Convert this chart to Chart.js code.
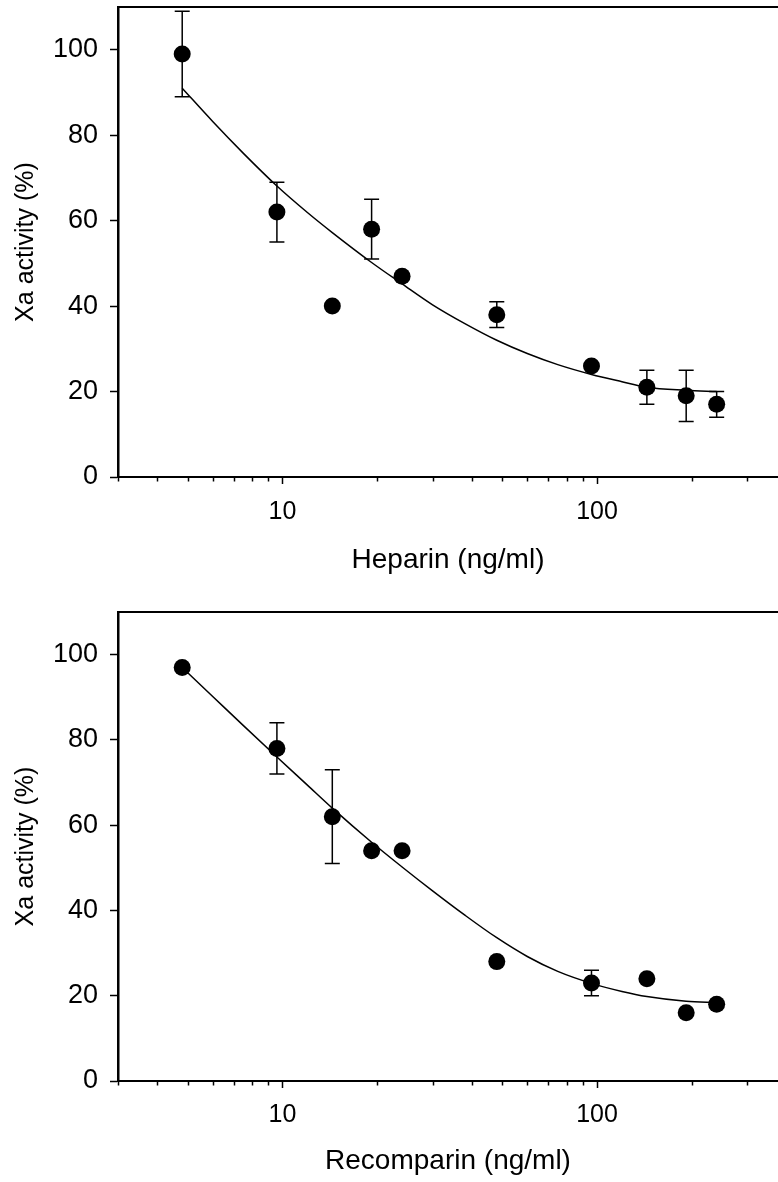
<!DOCTYPE html>
<html>
<head>
<meta charset="utf-8">
<script src="https://cdn.jsdelivr.net/npm/chart.js@4.4.1/dist/chart.umd.min.js"></script>
<style>
  html, body { margin: 0; padding: 0; background: #fff; }
  body { width: 778px; height: 1182px; position: relative; overflow: hidden; }
  canvas { position: absolute; left: 0; }
  #heparinChart { top: 0; }
  #recomparinChart { top: 580px; }
</style>
</head>
<body>
<canvas id="heparinChart" width="778" height="580"></canvas>
<canvas id="recomparinChart" width="778" height="602"></canvas>
<script>
// doses (ng/ml) shared by both panels
const doses = [4.8, 9.6, 14.4, 19.2, 24, 48, 96, 144, 192, 240];

const heparinMean = [99, 62, 40, 58, 47, 38, 26, 21, 19, 17];
const heparinErrLow = [89, 55, null, 51, null, 35, null, 17, 13, 14];
const heparinErrHigh = [109, 69, null, 65, null, 41, null, 25, 25, 20];

const recomparinMean = [97, 78, 62, 54, 54, 28, 23, 24, 16, 18];
const recomparinErrLow = [null, 72, 51, null, null, null, 20, null, null, null];
const recomparinErrHigh = [null, 84, 73, null, null, null, 26, null, null, null];

// fitted curves
const fitDoses = [4.8, 6, 7.5, 9.6, 12, 14.4, 19.2, 24, 30, 38, 48, 60, 75, 96, 120, 144, 192, 240];
const heparinFit = [91, 83.2, 75.8, 68.1, 61.9, 57.2, 50.2, 45.2, 40.3, 35.9, 32.0, 28.9, 26.3, 24.0, 22.3, 21.0, 20.3, 20.0];
const recomparinFit = [97, 90.2, 83.4, 76.0, 69.4, 64.0, 56.0, 50.2, 44.6, 38.9, 33.6, 29.2, 25.7, 22.9, 21.0, 19.8, 18.7, 18.4];

// axis ticks
const xMin = 3, xMax = 376;
const xTicks = [3, 4, 5, 6, 7, 8, 9, 10, 20, 30, 40, 50, 60, 70, 80, 90, 100, 200, 300];
const xLabelled = [10, 100];
const yTicks = [0, 20, 40, 60, 80, 100];

const FONT = '"Liberation Sans", Arial, Helvetica, sans-serif';

const framePlugin = {
    id: 'frame',
    beforeDatasetsDraw(chart, args, opts) {
        const ctx = chart.ctx;
        const x = chart.scales.x, y = chart.scales.y;
        ctx.save();
        ctx.strokeStyle = '#000';
        ctx.lineWidth = 1.5;
        doses.forEach((d, i) => {
            if (opts.lo[i] == null) return;
            const px = x.getPixelForValue(d);
            const yLo = y.getPixelForValue(opts.lo[i]);
            const yHi = y.getPixelForValue(opts.hi[i]);
            ctx.beginPath();
            ctx.moveTo(px, yLo);
            ctx.lineTo(px, yHi);
            ctx.moveTo(px - 7.5, yLo);
            ctx.lineTo(px + 7.5, yLo);
            ctx.moveTo(px - 7.5, yHi);
            ctx.lineTo(px + 7.5, yHi);
            ctx.stroke();
        });
        ctx.restore();
    },
    afterDraw(chart) {
        const ctx = chart.ctx;
        const area = chart.chartArea;
        const x = chart.scales.x;
        ctx.save();
        ctx.strokeStyle = '#000';
        // top frame line
        ctx.lineWidth = 2;
        ctx.beginPath();
        ctx.moveTo(area.left, area.top);
        ctx.lineTo(area.right, area.top);
        ctx.stroke();
        // minor ticks on the log axis
        ctx.lineWidth = 1.5;
        for (const v of xTicks) {
            if (xLabelled.includes(v)) continue;
            const px = Math.round(x.getPixelForValue(v)) + 0.5;
            ctx.beginPath();
            ctx.moveTo(px, area.bottom);
            ctx.lineTo(px, area.bottom + 4.5);
            ctx.stroke();
        }
        ctx.restore();
    }
};

function makeChart(id, title, mean, lo, hi, fit, lay) {
    return new Chart(document.getElementById(id), {
        type: 'scatter',
        data: {
            datasets: [
                {
                    type: 'line',
                    data: fitDoses.map((d, i) => ({ x: d, y: fit[i] })),
                    borderColor: '#000',
                    borderWidth: 1.5,
                    pointRadius: 0,
                    cubicInterpolationMode: 'monotone',
                    fill: false
                },
                {
                    data: doses.map((d, i) => ({ x: d, y: mean[i] })),
                    backgroundColor: '#000',
                    borderColor: '#000',
                    borderWidth: 0,
                    pointRadius: 8.5,
                    pointHoverRadius: 8.5
                }
            ]
        },
        options: {
            responsive: false,
            animation: false,
            layout: {
                autoPadding: false,
                padding: { top: lay.top, left: 0, right: 0, bottom: 0 }
            },
            plugins: {
                legend: { display: false },
                tooltip: { enabled: false },
                frame: { lo: lo, hi: hi }
            },
            scales: {
                x: {
                    type: 'logarithmic',
                    bounds: 'data',
                    min: xMin,
                    max: xMax,
                    afterBuildTicks: (scale) => {
                        scale.ticks = xTicks.map(v => ({ value: v, major: xLabelled.includes(v) }));
                    },
                    afterFit: (scale) => {
                        scale.height = lay.xHeight;
                        scale.paddingLeft = 0;
                        scale.paddingRight = 0;
                    },
                    border: { display: true, color: '#000', width: 2 },
                    grid: {
                        display: true,
                        drawOnChartArea: false,
                        tickLength: 7,
                        tickWidth: 1.5,
                        tickColor: (c) => (c.tick && xLabelled.includes(c.tick.value)) ? '#000' : 'rgba(0,0,0,0)'
                    },
                    ticks: {
                        autoSkip: false,
                        maxRotation: 0,
                        padding: lay.xTickPad,
                        color: '#000',
                        font: { family: FONT, size: 25 },
                        callback: (v) => xLabelled.includes(v) ? String(v) : ''
                    },
                    title: {
                        display: true,
                        text: title,
                        color: '#000',
                        font: { family: FONT, size: 28 },
                        padding: { top: 0, bottom: lay.titlePad }
                    }
                },
                y: {
                    min: 0,
                    max: 110,
                    afterBuildTicks: (scale) => {
                        scale.ticks = yTicks.map(v => ({ value: v }));
                    },
                    afterFit: (scale) => {
                        scale.width = 118;
                        scale.paddingTop = 0;
                        scale.paddingBottom = 0;
                    },
                    border: { display: true, color: '#000', width: 2.5 },
                    grid: {
                        display: true,
                        drawOnChartArea: false,
                        tickLength: 8,
                        tickWidth: 1.5,
                        tickColor: '#000'
                    },
                    ticks: {
                        padding: 12,
                        color: '#000',
                        font: { family: FONT, size: 27 }
                    },
                    title: {
                        display: true,
                        text: 'Xa activity (%)',
                        color: '#000',
                        font: { family: FONT, size: 25 },
                        padding: { top: 11, bottom: 0 }
                    }
                }
            }
        },
        plugins: [framePlugin]
    });
}

makeChart('heparinChart', 'Heparin (ng/ml)', heparinMean, heparinErrLow, heparinErrHigh, heparinFit,
    { top: 7, xHeight: 103, xTickPad: 13, titlePad: 3 });
makeChart('recomparinChart', 'Recomparin (ng/ml)', recomparinMean, recomparinErrLow, recomparinErrHigh, recomparinFit,
    { top: 32, xHeight: 101, xTickPad: 12, titlePad: 4 });
</script>
</body>
</html>
